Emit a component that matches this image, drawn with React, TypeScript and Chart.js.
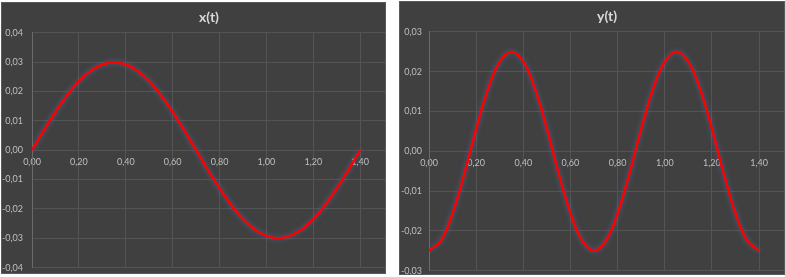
import React, { useEffect, useRef } from "react";
import { Chart, registerables } from "chart.js";

Chart.register(...registerables);

// time values (s)
const tValues = [
  0, 0.05, 0.1, 0.15, 0.2, 0.25, 0.3, 0.35, 0.4, 0.45, 0.5, 0.55, 0.6, 0.65, 0.7,
  0.75, 0.8, 0.85, 0.9, 0.95, 1.0, 1.05, 1.1, 1.15, 1.2, 1.25, 1.3, 1.35, 1.4,
];

// x(t) values
const xValues = [
  0, 0.0067, 0.013, 0.0187, 0.0235, 0.027, 0.0292, 0.03, 0.0292, 0.027, 0.0235,
  0.0187, 0.013, 0.0067, 0, -0.0067, -0.013, -0.0187, -0.0235, -0.027, -0.0292,
  -0.03, -0.0292, -0.027, -0.0235, -0.0187, -0.013, -0.0067, 0,
];

// y(t) values
const yValues = [
  -0.025, -0.0225, -0.0156, -0.0056, 0.0056, 0.0156, 0.0225, 0.025, 0.0225, 0.0156,
  0.0056, -0.0056, -0.0156, -0.0225, -0.025, -0.0225, -0.0156, -0.0056, 0.0056,
  0.0156, 0.0225, 0.025, 0.0225, 0.0156, 0.0056, -0.0056, -0.0156, -0.0225, -0.025,
];

// tick values
const xTicks = [0, 0.2, 0.4, 0.6, 0.8, 1.0, 1.2, 1.4];
const xAxisMax = 1.51;
const yTicksLeft = [-0.04, -0.03, -0.02, -0.01, 0, 0.01, 0.02, 0.03, 0.04];
const yTicksRight = [-0.03, -0.02, -0.01, 0, 0.01, 0.02, 0.03];

const fmt = (v: number) => (Math.round(v * 100) / 100).toFixed(2).replace(".", ",");

const glowPlugin = {
  id: "glow",
  beforeDatasetsDraw(chart: any) {
    const ctx = chart.ctx;
    ctx.save();
    ctx.shadowColor = "rgba(80,120,190,0.6)";
    ctx.shadowBlur = 5;
  },
  afterDatasetsDraw(chart: any) {
    chart.ctx.restore();
  },
};

type PanelProps = {
  title: string;
  values: number[];
  yTicks: number[];
  left: number;
  top: number;
  width: number;
  height: number;
  axisWidth: number;
  labelPad: number;
};

const EXTRA = 8;

function Panel({ title, values, yTicks, left, top, width, height, axisWidth, labelPad }: PanelProps) {
  const ref = useRef<HTMLCanvasElement | null>(null);
  useEffect(() => {
    if (!ref.current) return;
    const font = { family: "Lato, 'Open Sans', sans-serif", size: 9 };
    const chart = new Chart(ref.current, {
      type: "line",
      data: {
        datasets: [
          {
            data: tValues.map((t, i) => ({ x: t, y: values[i] })),
            borderColor: "#ff0000",
            borderWidth: 2.5,
            pointRadius: 0,
            tension: 0.4,
            fill: false,
          },
        ],
      },
      options: {
        animation: false,
        responsive: false,
        layout: { padding: { top: 0, bottom: 0, left: 0, right: 0 } },
        plugins: {
          legend: { display: false },
          tooltip: { enabled: false },
          title: {
            display: true,
            text: title,
            color: "#d9d9d9",
            fullSize: false,
            font: { family: "Lato, 'Open Sans', sans-serif", size: 14, weight: "bold" },
            padding: { top: 7, bottom: 7 },
          },
        },
        scales: {
          x: {
            type: "linear",
            min: 0,
            max: xAxisMax,
            position: { y: 0 },
            afterBuildTicks: (scale: any) => {
              scale.ticks = xTicks.map((v) => ({ value: v }));
            },
            ticks: {
              color: "#bfbfbf",
              font,
              padding: 6,
              maxRotation: 0,
              autoSkip: false,
              callback: (v: any) => fmt(Number(v)),
            },
            grid: { color: "#545454", lineWidth: 1, drawTicks: false },
            border: { color: "#545454", width: 1 },
          },
          y: {
            type: "linear",
            min: yTicks[0],
            max: yTicks[yTicks.length - 1],
            afterBuildTicks: (scale: any) => {
              scale.ticks = yTicks.map((v) => ({ value: v }));
            },
            afterFit: (scale: any) => {
              scale.width = axisWidth;
            },
            ticks: {
              color: "#bfbfbf",
              font,
              padding: labelPad,
              autoSkip: false,
              callback: (v: any) => fmt(Number(v)),
            },
            grid: { color: "#545454", lineWidth: 1, drawTicks: false },
            border: { color: "#6a6a6a", width: 1 },
          },
        },
      } as any,
      plugins: [glowPlugin],
    });
    return () => chart.destroy();
  }, []);
  return (
    <div
      style={{
        position: "absolute",
        left,
        top,
        width,
        height,
        background: "#404040",
        overflow: "hidden",
      }}
    >
      <canvas ref={ref} width={width} height={height + EXTRA} style={{ display: "block" }} />
      <div
        style={{
          position: "absolute",
          left: 0,
          top: 0,
          width,
          height,
          boxSizing: "border-box",
          border: "1px solid #5a5a5a",
          pointerEvents: "none",
        }}
      />
    </div>
  );
}

export default function App() {
  return (
    <div
      style={{
        position: "fixed",
        left: 0,
        top: 0,
        width: 785,
        height: 277,
        background: "#ffffff",
        overflow: "hidden",
      }}
    >
      <Panel title="x(t)" values={xValues} yTicks={yTicksLeft} left={1} top={2} width={385} height={272} axisWidth={31} labelPad={9} />
      <Panel title="y(t)" values={yValues} yTicks={yTicksRight} left={399} top={1} width={386} height={274} axisWidth={30} labelPad={7} />
    </div>
  );
}
